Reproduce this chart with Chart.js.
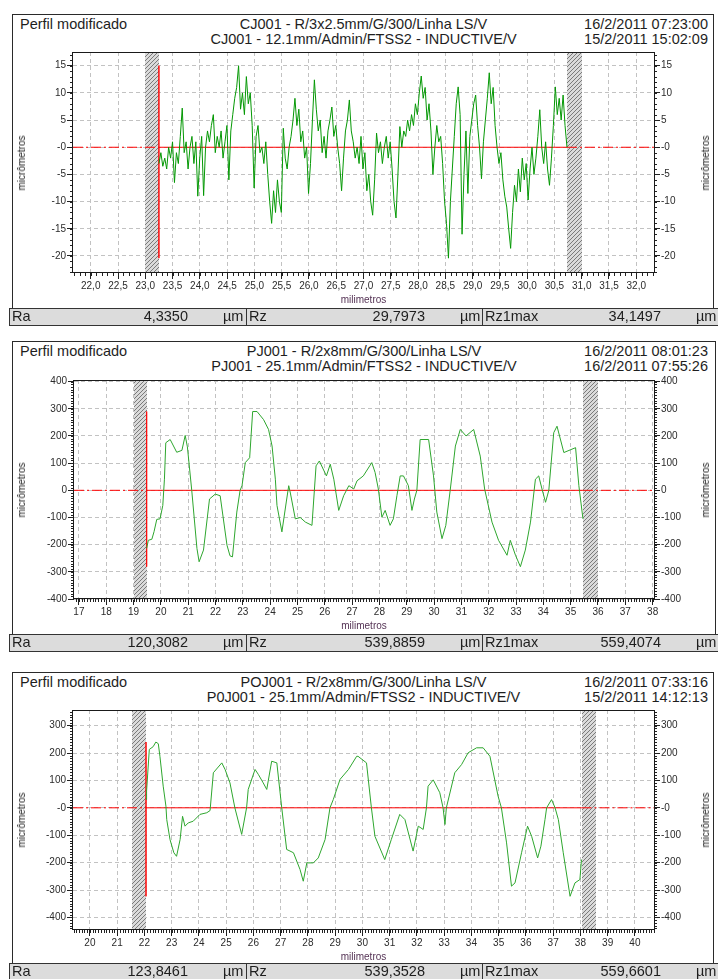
<!DOCTYPE html>
<html><head><meta charset="utf-8">
<script src="https://cdn.jsdelivr.net/npm/chart.js@4.4.1/dist/chart.umd.min.js"></script>
<style>
html,body{margin:0;padding:0;background:#fff;}
body{width:718px;height:979px;position:relative;overflow:hidden;font-family:"Liberation Sans",Arial,sans-serif;color:#1e1e1e;}
.abs{position:absolute;white-space:nowrap;}
.box{position:absolute;border:1px solid #2a2a2a;border-bottom:none;box-sizing:border-box;}
.hdr{font-size:14.5px;line-height:15px;}
canvas{position:absolute;left:0;}
.row{position:absolute;left:9px;width:720px;background:#dcdcdc;border-top:1px solid #333;border-bottom:1px solid #333;border-left:1px solid #333;box-sizing:border-box;}
.cellsep{position:absolute;width:1px;background:#333;}
.stat{font-size:14.5px;line-height:17px;}
.ttl{font-size:10px;line-height:12px;}
</style></head><body>
<script>
// ---------------- DATA ----------------
// Panel 1 (CJ001): profile samples, uniform sampling between first and last sample position (mm)
const p1FirstX = 23.25;
const p1LastX = 30.73;
const p1Values = [
 -3,-1,-3.5,-2,-4,0,-2,1,-6.5,-1,
 -3,2,7.2,-1,1,-4,0,2,-3,1,
 -9,-2,2,-8.9,0,3,1,4,6,-1,
 2,0,3,-2,1,4,-6,3,6,9,
 11,15,7,10,6,13,8,10,4,-7.5,
 2,4,-1,0,-3,1,-5,-10,-14,-8,
 -12,-6,-10,-12,3.5,-2,-4,0,2,5,
 9,4,7,1,3,-2,0,-8.5,-3,5,
 12.4,7,3,5,-1,2,-2,3,5,7.4,
 2,4,0,-3,-8,-2,3,5,8.7,3,
 1,-2,0,-3,2,-4,-1,-8,-5,-10,
 -12.5,-6,2.6,-1,1,-3,0,2,-2,1,
 -4,-10,-13,-5,3.8,0,3,2,5,3,
 6,4,8,6,10,13.1,9,11,5,8,
 3,-5,0,4,1,2,-3,-10,-14,-20.4,
 -10,-4,2,8,11.1,6,-16,-5,3,-8.5,
 2,5,8,9.6,4,0,-5.8,1,5,9,
 13.7,8,11,4,0,-3,-1,-6,-9,-11,
 -15,-18.6,-12,-7,-10,-4,-8.2,-2,-6,-3,
 -9.7,-4,0,-5,-2,2,6.9,0,-3,1,
 -4,-7,-2,4,11.1,6,9,5,9.6,4,
 0
];
// Panel 2 (PJ001)
const p2X = [19.48,19.54,19.67,19.75,19.85,19.97,20.07,20.13,20.18,20.34,20.58,20.77,20.89,20.97,21.13,21.32,21.40,21.56,21.78,21.99,22.17,22.42,22.53,22.62,22.78,22.90,22.97,23.09,23.25,23.36,23.52,23.76,23.94,24.07,24.19,24.25,24.43,24.59,24.68,24.74,24.92,25.10,25.29,25.53,25.68,25.80,26.06,26.20,26.33,26.51,26.69,26.88,27.06,27.18,27.41,27.72,27.84,27.96,28.09,28.21,28.39,28.51,28.64,28.76,28.88,29.06,29.19,29.28,29.37,29.49,29.80,29.98,30.10,30.29,30.43,30.59,30.78,30.96,31.17,31.45,31.69,31.85,32.12,32.36,32.67,32.79,32.98,33.16,33.34,33.53,33.71,33.83,33.95,34.08,34.20,34.38,34.50,34.75,35.18,35.30,35.45];
const p2Y = [-214,-184,-180,-152,-107,-105,-56,41,175,187,140,147,202,160,0,-214,-263,-220,-32,-14,-20,-202,-241,-245,-80,0,17,102,120,290,290,260,224,163,41,-56,-153,-43,17,-10,-105,-100,-117,-129,90,108,53,96,41,-74,-20,17,5,35,53,102,66,5,-99,-74,-129,-105,-20,53,53,17,-74,-32,0,187,187,53,-80,-178,-129,0,163,224,200,224,126,5,-117,-184,-239,-184,-239,-281,-220,-117,41,53,5,-44,0,212,236,139,157,17,-105];
// Panel 3 (POJ001)
const p3X = [22.06,22.08,22.18,22.32,22.42,22.51,22.57,22.69,22.79,22.82,22.94,23.08,23.18,23.31,23.40,23.49,23.61,23.79,24.04,24.29,24.41,24.53,24.84,24.96,25.14,25.32,25.57,25.75,25.81,26.06,26.18,26.36,26.49,26.67,26.86,27.04,27.22,27.47,27.71,27.83,27.96,28.20,28.38,28.63,28.81,28.93,29.18,29.49,29.79,29.84,30.15,30.33,30.46,30.82,31.06,31.37,31.56,31.86,32.05,32.23,32.35,32.41,32.60,32.84,32.96,33.03,33.08,33.39,33.64,33.88,34.19,34.43,34.68,34.98,35.10,35.29,35.47,35.60,35.84,36.06,36.21,36.43,36.55,36.70,36.76,36.94,37.07,37.19,37.37,37.62,37.80,37.98,38.04];
const p3Y = [30,61,213,223,240,234,188,79,6,-43,-116,-164,-177,-116,-31,-67,-55,-49,-24,-18,-10,128,164,140,91,0,-97,0,67,140,122,91,67,170,164,0,-152,-164,-225,-268,-201,-201,-183,-116,0,30,104,140,188,188,164,0,-104,-189,-116,-24,-43,-158,-67,-79,0,79,102,55,0,-61,0,128,158,201,219,219,188,42,0,-128,-286,-274,-164,-67,-104,-183,-140,-43,0,30,0,-43,-164,-323,-274,-262,-189];

// evaluation limits and hatched (excluded) zones, mm
const evalLimits = [[23.25,30.73],[19.48,35.45],[22.06,38.04]];
const hatchZones = [[[23.0,23.25],[30.73,31.0]],[[19.0,19.48],[35.46,36.0]],[[21.54,22.06],[38.05,38.58]]];
// range of the red start marker (µm)
const markerRange = [[15,-20.4],[290,-281],[240,-323]];

// axis ranges & ticks
const xRanges = [[21.675,32.325],[16.82,38.05],[19.38,40.7]];
const yRanges = [[-23.13,17.52],[-400,406],[-446,357]];
const xSteps = [0.5,1,1];
const ySteps = [5,100,100];
const xMinor = [0.1,0.1,0.1];
const yMinor = [1,10,10];

// texts
const headLeft = "Perfil modificado";
const titleLine1 = ["CJ001 - R/3x2.5mm/G/300/Linha LS/V","PJ001 - R/2x8mm/G/300/Linha LS/V","POJ001 - R/2x8mm/G/300/Linha LS/V"];
const titleLine2 = ["CJ001 - 12.1mm/Admin/FTSS2 - INDUCTIVE/V","PJ001 - 25.1mm/Admin/FTSS2 - INDUCTIVE/V","P0J001 - 25.1mm/Admin/FTSS2 - INDUCTIVE/V"];
const dateLine1 = ["16/2/2011 07:23:00","16/2/2011 08:01:23","16/2/2011 07:33:16"];
const dateLine2 = ["15/2/2011 15:02:09","16/2/2011 07:55:26","15/2/2011 14:12:13"];
const statNames = ["Ra","Rz","Rz1max"];
const statRa = ["4,3350","120,3082","123,8461"];
const statRz = ["29,7973","539,8859","539,3528"];
const statRz1max = ["34,1497","559,4074","559,6601"];
const statUnit = "µm";
const yTitle = "micrômetros";
const xTitle = "milimetros";

// ---------------- LAYOUT ----------------
const layout = [
  {boxTop:14, plotTop:52, plotBottom:273, rowTop:308, plotLeft:73, plotRight:654, boxRight:713},
  {boxTop:341, plotTop:380, plotBottom:599, rowTop:634, plotLeft:74, plotRight:654, boxRight:715},
  {boxTop:672, plotTop:710, plotBottom:930, rowTop:963, plotLeft:73, plotRight:654, boxRight:713}
];
const tickFont = {family:'"Liberation Sans", Arial, sans-serif', size:10};
const tickColor = '#2b2b2b';
const RED = '#ff0000';

function addText(txt, css, cls){
  const d=document.createElement('div'); d.className='abs '+(cls||''); d.textContent=txt;
  Object.assign(d.style, css); document.body.appendChild(d); return d;
}
function tickList(min,max,step){
  const t=[];
  for(let k=Math.ceil(min/step-1e-9);k<=Math.floor(max/step+1e-9);k++) t.push({value:+(k*step).toFixed(6)});
  return t;
}

const hatchTile=(()=>{const c=document.createElement('canvas');c.width=4;c.height=4;const g=c.getContext('2d');
  g.fillStyle='#dadada';g.fillRect(0,0,4,4);g.strokeStyle='#7a7a7a';g.lineWidth=1;g.beginPath();
  g.moveTo(0,4);g.lineTo(4,0);g.moveTo(-1,1);g.lineTo(1,-1);g.moveTo(3,5);g.lineTo(5,3);g.stroke();return c;})();

const decor={
  id:'decor',
  beforeDatasetsDraw(chart,args,o){
    const {ctx,chartArea:a,scales:{x}}=chart;
    ctx.save();
    const pat=ctx.createPattern(hatchTile,'repeat');
    ctx.fillStyle=pat;
    for(const z of o.zones){
      const x0=Math.round(x.getPixelForValue(z[0])),x1=Math.round(x.getPixelForValue(z[1]));
      ctx.fillRect(x0,a.top,x1-x0,a.bottom-a.top);
    }
    ctx.restore();
  },
  afterDraw(chart,args,o){
    const {ctx,chartArea:a,scales:{x,y}}=chart;
    ctx.save();ctx.strokeStyle='#222';ctx.lineWidth=1;ctx.beginPath();
    for(let k=Math.ceil(x.min/o.minorX-1e-9);k*o.minorX<=x.max+1e-9;k++){
      const px=Math.round(x.getPixelForValue(k*o.minorX))+0.5;
      ctx.moveTo(px,a.bottom);ctx.lineTo(px,a.bottom+3);
    }
    for(let k=Math.ceil(y.min/o.minorY-1e-9);k*o.minorY<=y.max+1e-9;k++){
      const py=Math.round(y.getPixelForValue(k*o.minorY))+0.5;
      ctx.moveTo(a.left-3,py);ctx.lineTo(a.left,py);
      ctx.moveTo(a.right,py);ctx.lineTo(a.right+3,py);
    }
    ctx.stroke();
    ctx.strokeStyle='#1a1a1a';
    ctx.strokeRect(Math.round(a.left)-0.5,Math.round(a.top)+0.5,Math.round(a.right-a.left)+1,Math.round(a.bottom-a.top)-1);
    ctx.restore();
  }
};

const seriesPoints=[
  p1Values.map((v,i)=>({x:p1FirstX+i*(p1LastX-p1FirstX)/(p1Values.length-1),y:v})),
  p2X.map((v,i)=>({x:v,y:p2Y[i]})),
  p3X.map((v,i)=>({x:v,y:p3Y[i]}))
];
const lineColors=['#049804','#2ea62e','#2ea62e'];
const zeroLabels=['-0','0','-0'];

layout.forEach((L,i)=>{
  const b=document.createElement('div');b.className='box';
  Object.assign(b.style,{left:'12px',top:L.boxTop+'px',width:(L.boxRight-12+1)+'px',height:(L.rowTop-L.boxTop)+'px'});
  document.body.appendChild(b);
  addText(headLeft,{left:'20px',top:(L.boxTop+2.5)+'px'},'hdr');
  const cx=(L.plotLeft+L.plotRight)/2;
  addText(titleLine1[i],{left:cx+'px',top:(L.boxTop+2.5)+'px',transform:'translateX(-50%)'},'hdr');
  addText(titleLine2[i],{left:cx+'px',top:(L.boxTop+17.5)+'px',transform:'translateX(-50%)'},'hdr');
  addText(dateLine1[i],{right:(718-708)+'px',top:(L.boxTop+2.5)+'px'},'hdr');
  addText(dateLine2[i],{right:(718-708)+'px',top:(L.boxTop+17.5)+'px'},'hdr');
  const H=L.rowTop-L.boxTop;
  const cv=document.createElement('canvas');cv.width=718;cv.height=H;cv.style.top=L.boxTop+'px';cv.style.width='718px';cv.style.height=H+'px';
  document.body.appendChild(cv);
  const wL=40,wR=40,hX=20;
  const [xs,xe]=evalLimits[i];
  const red=(pts,dash,w)=>({data:pts,borderColor:RED,borderWidth:w||1,borderDash:dash||[],pointRadius:0,tension:0,fill:false,order:5});
  const yTick={font:tickFont,color:tickColor,padding:1,
    callback:v=>Math.abs(v)<1e-9?zeroLabels[i]:String(v)};
  new Chart(cv,{
    type:'line',
    data:{datasets:[
      {data:seriesPoints[i],borderColor:lineColors[i],borderWidth:1,pointRadius:0,tension:0,fill:false,order:0},
      red([{x:xRanges[i][0],y:0},{x:xs,y:0}],[10,3,2,3]),
      red([{x:xe,y:0},{x:xRanges[i][1],y:0}],[10,3,2,3]),
      red([{x:xs,y:0},{x:xe,y:0}]),
      red([{x:xs,y:markerRange[i][0]},{x:xs,y:markerRange[i][1]}],null,0.7)
    ]},
    options:{
      animation:false,responsive:false,devicePixelRatio:1,events:[],
      layout:{padding:{left:L.plotLeft-wL,right:718-L.plotRight-wR,top:L.plotTop-L.boxTop,bottom:H-(L.plotBottom-L.boxTop)-hX}},
      plugins:{legend:{display:false},tooltip:{enabled:false},
        decor:{zones:hatchZones[i],minorX:xMinor[i],minorY:yMinor[i]}},
      scales:{
        x:{type:'linear',position:'bottom',min:xRanges[i][0],max:xRanges[i][1],afterFit:s=>{s.height=hX;},
          afterBuildTicks:s=>{s.ticks=tickList(s.min,s.max,xSteps[i]);},
          ticks:{font:tickFont,color:tickColor,padding:1,autoSkip:false,maxRotation:0,
            callback:v=>xSteps[i]<1?v.toFixed(1).replace('.',','):String(Math.round(v))},
          grid:{color:'#c2c2c2',tickColor:'#222',tickLength:6,lineWidth:1},border:{display:false,dash:[4,3]}},
        y:{type:'linear',position:'left',min:yRanges[i][0],max:yRanges[i][1],afterFit:s=>{s.width=wL;},
          afterBuildTicks:s=>{s.ticks=tickList(s.min,s.max,ySteps[i]);},
          ticks:yTick,grid:{color:'#c2c2c2',tickColor:'#222',tickLength:6,lineWidth:1},border:{display:false,dash:[4,3]}},
        y2:{type:'linear',position:'right',min:yRanges[i][0],max:yRanges[i][1],afterFit:s=>{s.width=wR;},
          afterBuildTicks:s=>{s.ticks=tickList(s.min,s.max,ySteps[i]);},
          ticks:yTick,grid:{drawOnChartArea:false,tickColor:'#222',tickLength:6,lineWidth:1},border:{display:false}}
      }
    },
    plugins:[decor]
  });
  const cy=(L.plotTop+L.plotBottom)/2;
  addText(yTitle,{left:'22px',top:cy+'px',transform:'translate(-50%,-50%) rotate(-90deg)',color:'#222'},'ttl');
  addText(yTitle,{left:'706px',top:cy+'px',transform:'translate(-50%,-50%) rotate(-90deg)',color:'#222'},'ttl');
  addText(xTitle,{left:cx+'px',top:(L.plotBottom+26.5)+'px',transform:'translate(-50%,-50%)',color:'#553355'},'ttl');
  const r=document.createElement('div');r.className='row';
  Object.assign(r.style,{top:L.rowTop+'px',height:'18px'});document.body.appendChild(r);
  [246,482].forEach(sx=>{const s=document.createElement('div');s.className='cellsep';Object.assign(s.style,{left:sx+'px',top:L.rowTop+'px',height:'18px'});document.body.appendChild(s);});
  const vals=[statRa[i],statRz[i],statRz1max[i]];
  const cellStarts=[9,246,482];
  const textTop=L.rowTop-0.2;
  cellStarts.forEach((c0,k)=>{
    addText(statNames[k],{left:(c0+3)+'px',top:textTop+'px'},'stat');
    addText(vals[k],{right:(718-(c0+179))+'px',top:textTop+'px'},'stat');
    addText(statUnit,{left:(c0+214)+'px',top:textTop+'px'},'stat');
  });
});
</script>
</body></html>
